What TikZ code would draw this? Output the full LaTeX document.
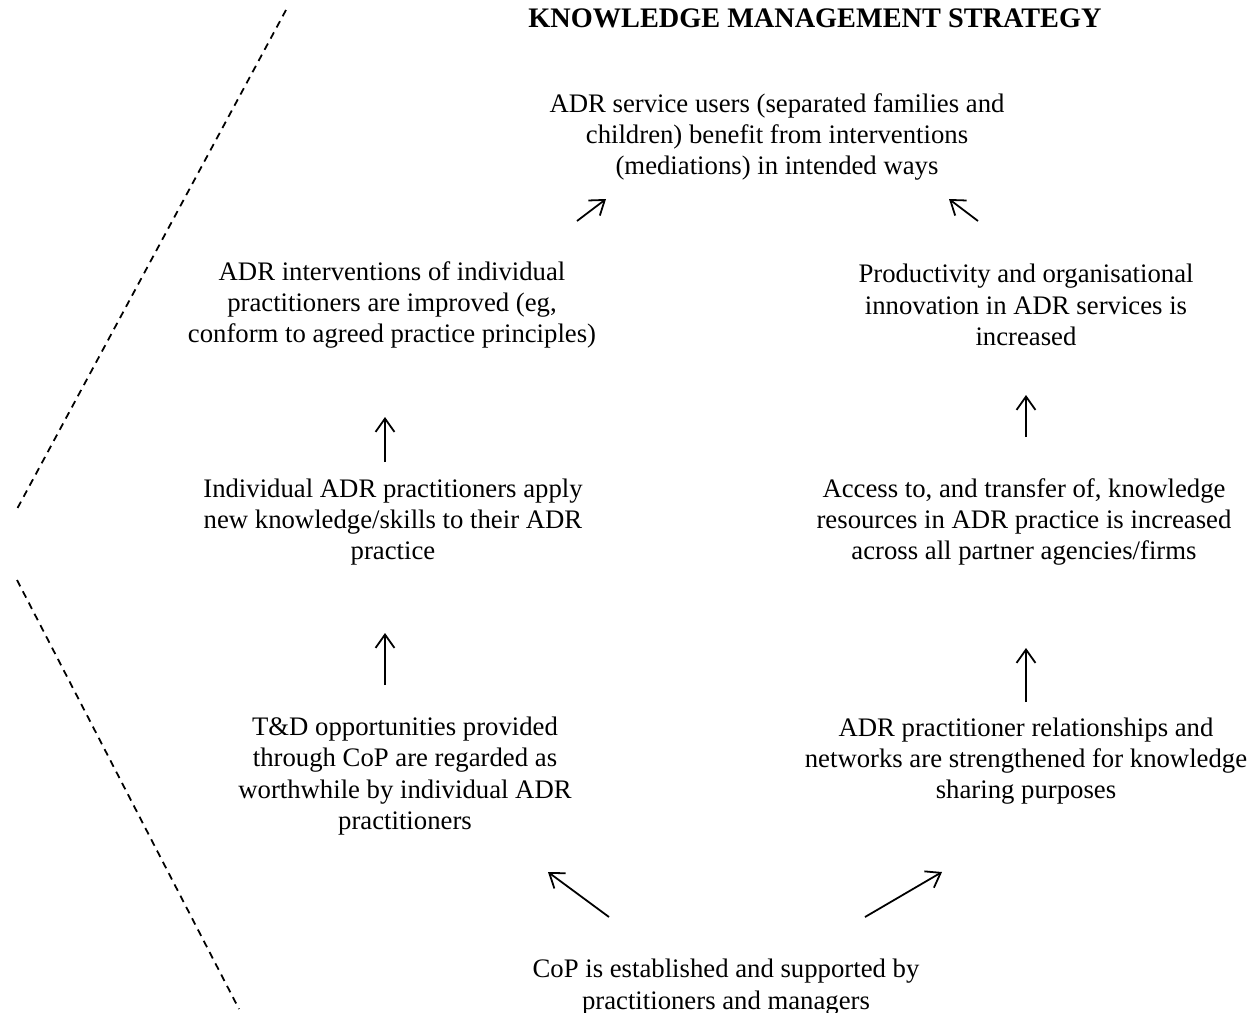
\documentclass[tikz,border=0pt]{standalone}
\usepackage{fontspec}
\setmainfont{Liberation Serif}
\usetikzlibrary{arrows.meta,positioning}

\begin{document}
\begin{tikzpicture} [x=0.449pt, y=-0.449pt,
	txt/.style={align=center, inner sep=0pt, font=\fontsize{12}{14.1}\selectfont},
	up/.style={-{Straight Barb[length=6pt,width=8.5pt]}, line width=0.8pt},
	cut/.style={line width=0.8pt, dash pattern=on 3.2pt off 2.5pt}]

\useasboundingbox (0,0) rectangle (1257,1012);

\node [txt, font=\fontsize{12.7}{14.1}\selectfont\bfseries, anchor=base] (title) at (815,27) {KNOWLEDGE MANAGEMENT STRATEGY};

\node [txt] (users)		at (777,137)	{ADR service users (separated families and\\children) benefit from interventions\\(mediations) in intended ways};
\node [txt] (improve)	at (392,305)	{ADR interventions of individual\\practitioners are improved (eg,\\conform to agreed practice principles)};
\node [txt] (product)	at (1026,305)	{Productivity and organisational\\innovation in ADR services is\\increased};
\node [txt] (apply)		at (393,522)	{Individual ADR practitioners apply\\new knowledge/skills to their ADR\\practice};
\node [txt] (access)	at (1024,522)	{Access to, and transfer of, knowledge\\resources in ADR practice is increased\\across all partner agencies/firms};
\node [txt] (tnd)		at (405,776)	{T\&D opportunities provided\\through CoP are regarded as\\worthwhile by individual ADR\\practitioners};
\node [txt] (network)	at (1026,761)	{ADR practitioner relationships and\\networks are strengthened for knowledge\\sharing purposes};
\node [txt] (cop)		at (726,987)	{CoP is established and supported by\\practitioners and managers};

% arrow ends
\coordinate (tl0) at (577,221);		\coordinate (tl1) at (606,199);
\coordinate (tr0) at (978,221);		\coordinate (tr1) at (949,199);
\coordinate (l10) at (385,462);		\coordinate (l11) at (385,417);
\coordinate (l20) at (385,685);		\coordinate (l21) at (385,633);
\coordinate (r10) at (1026,437);	\coordinate (r11) at (1026,395);
\coordinate (r20) at (1026,702);	\coordinate (r21) at (1026,648);
\coordinate (bl0) at (609,917);		\coordinate (bl1) at (548,872);
\coordinate (br0) at (865,917);		\coordinate (br1) at (942,872);

\draw [up] (tl0) -- (tl1);
\draw [up] (tr0) -- (tr1);
\draw [up] (l10) -- (l11);
\draw [up] (l20) -- (l21);
\draw [up] (r10) -- (r11);
\draw [up] (r20) -- (r21);
\draw [up] (bl0) -- (bl1);
\draw [up] (br0) -- (br1);

% cut lines on the left
\draw [cut] (286,10) -- (17,509);
\draw [cut] (17,580) -- (239,1009);

\end{tikzpicture}
\end{document}
